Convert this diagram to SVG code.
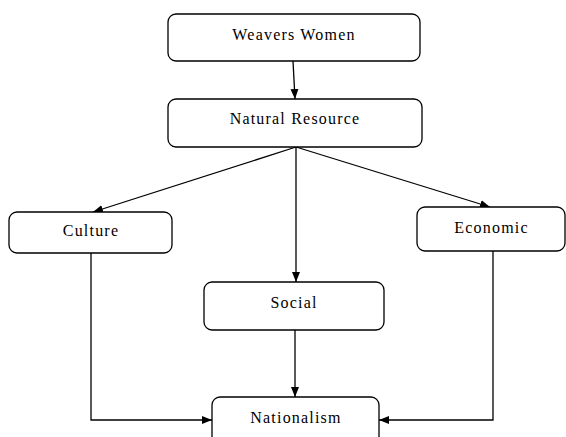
<svg xmlns="http://www.w3.org/2000/svg" width="566" height="437" viewBox="0 0 566 437">
<style>
.box{fill:#fff;stroke:#000;stroke-width:1.3}
.lbl{font-family:"Liberation Serif","Times New Roman",serif;font-size:16px;letter-spacing:1.2px;fill:#000;text-anchor:middle}
.con{fill:none;stroke:#000;stroke-width:1.3}
</style>
<defs>
<marker id="ah" markerWidth="10" markerHeight="8" refX="10" refY="4" orient="auto" markerUnits="userSpaceOnUse">
<path d="M0,0 L10,4 L0,8 Z" fill="#000"/>
</marker>
</defs>
<rect width="566" height="437" fill="#fff"/>
<g id="connectors">
<line class="con" x1="293" y1="61" x2="295" y2="99" marker-end="url(#ah)"/>
<line class="con" x1="296" y1="147" x2="93" y2="212" marker-end="url(#ah)"/>
<line class="con" x1="296" y1="147" x2="296" y2="282" marker-end="url(#ah)"/>
<line class="con" x1="296" y1="147" x2="490" y2="207" marker-end="url(#ah)"/>
<polyline class="con" points="91,253 91,420 212,420" marker-end="url(#ah)"/>
<line class="con" x1="295" y1="330" x2="295" y2="397" marker-end="url(#ah)"/>
<polyline class="con" points="493,251 493,420 379,420" marker-end="url(#ah)"/>
</g>
<g id="weavers">
<rect class="box" x="168" y="14" width="252" height="47" rx="8"/>
<text class="lbl" x="294" y="39.5">Weavers Women</text>
</g>
<g id="natural">
<rect class="box" x="168" y="99" width="254" height="48" rx="8"/>
<text class="lbl" x="295" y="124">Natural Resource</text>
</g>
<g id="culture">
<rect class="box" x="9" y="212" width="163" height="41" rx="8"/>
<text class="lbl" x="91" y="236">Culture</text>
</g>
<g id="economic">
<rect class="box" x="417" y="207" width="148" height="44" rx="8"/>
<text class="lbl" x="491.5" y="233">Economic</text>
</g>
<g id="social">
<rect class="box" x="204" y="282" width="180" height="48" rx="8"/>
<text class="lbl" x="294" y="308">Social</text>
</g>
<g id="nationalism">
<rect class="box" x="212" y="397" width="167" height="48" rx="8"/>
<text class="lbl" x="296" y="423">Nationalism</text>
</g>
</svg>
